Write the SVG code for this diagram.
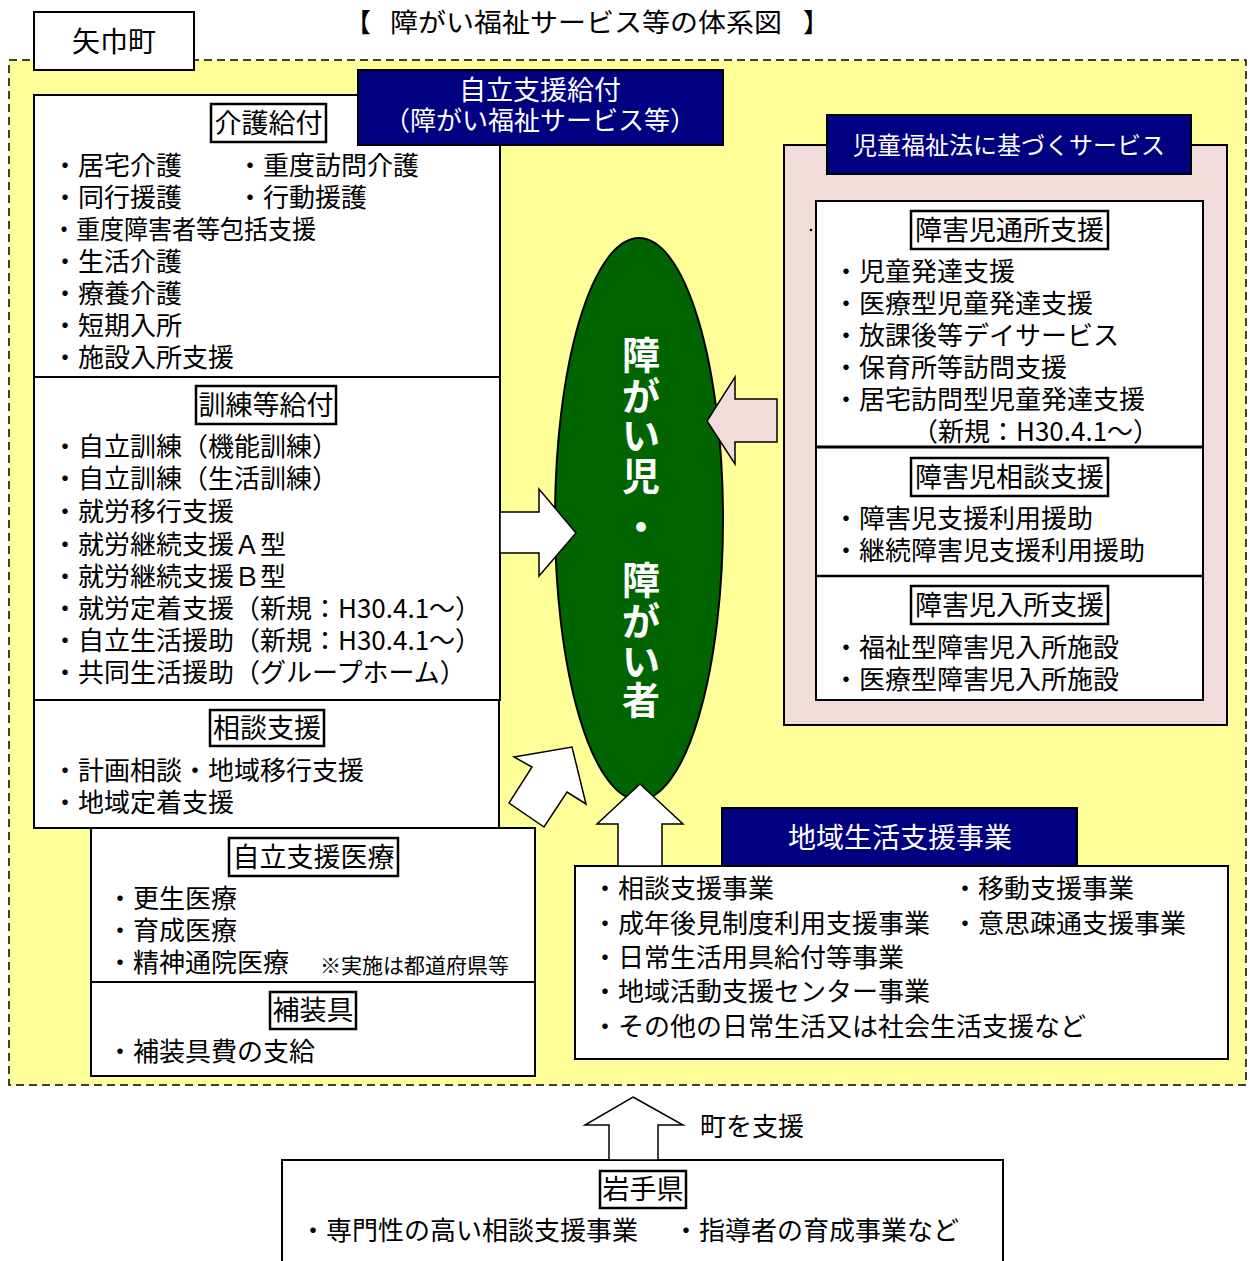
<svg xmlns="http://www.w3.org/2000/svg" width="1251" height="1261" viewBox="0 0 1251 1261">
<style>
.t{font-family:"Noto Sans CJK JP","Noto Sans CJK SC",sans-serif;font-size:26px;fill:#000}
.ttl{font-size:27px;text-anchor:middle}
.w{fill:#fff}
.box{fill:#fff;stroke:#000;stroke-width:2}
.tb{fill:#fff;stroke:#000;stroke-width:2.5}
.hdr{fill:#000080;stroke:#000;stroke-width:2}
.arr{fill:#fff;stroke:#000;stroke-width:1.5;stroke-linejoin:miter}
.big{font-size:38px;font-weight:bold;fill:#fff;text-anchor:middle}
</style>
<rect width="1251" height="1261" fill="#fff"/>
<g id="area">
<rect x="9" y="60" width="1237" height="1025" fill="#FFFF99" stroke="#000" stroke-width="1.5" stroke-dasharray="8,5"/>
</g>
<g id="town">
<rect class="box" x="34" y="12" width="160" height="58"/>
<text class="t" x="114" y="52" style="font-size:28px" text-anchor="middle">矢巾町</text>
</g>
<g id="title">
<text class="t" x="345" y="32">【<tspan x="390" textLength="392" lengthAdjust="spacingAndGlyphs">障がい福祉サービス等の体系図</tspan><tspan x="803">】</tspan></text>
</g>
<g id="kaigo">
<rect class="box" x="34" y="95" width="466" height="282"/>
<rect class="tb" x="211" y="104" width="115" height="38"/>
<text class="t ttl" x="268.5" y="133">介護給付</text>
<text class="t"><tspan x="52" y="175">・居宅介護</tspan><tspan x="237" y="175">・重度訪問介護</tspan><tspan x="52" y="207">・同行援護</tspan><tspan x="237" y="207">・行動援護</tspan><tspan x="52" y="239" textLength="264" lengthAdjust="spacingAndGlyphs">・重度障害者等包括支援</tspan><tspan x="52" y="271">・生活介護</tspan><tspan x="52" y="303">・療養介護</tspan><tspan x="52" y="335">・短期入所</tspan><tspan x="52" y="367">・施設入所支援</tspan></text>
</g>
<g id="kunren">
<rect class="box" x="34" y="377" width="466" height="323"/>
<rect class="tb" x="196" y="386" width="140" height="38"/>
<text class="t ttl" x="266" y="415">訓練等給付</text>
<text class="t"><tspan x="52" y="456">・自立訓練（機能訓練）</tspan><tspan x="52" y="488">・自立訓練（生活訓練）</tspan><tspan x="52" y="521">・就労移行支援</tspan><tspan x="52" y="554">・就労継続支援Ａ型</tspan><tspan x="52" y="586">・就労継続支援Ｂ型</tspan><tspan x="52" y="618">・就労定着支援（新規：H30.4.1～）</tspan><tspan x="52" y="650">・自立生活援助（新規：H30.4.1～）</tspan><tspan x="52" y="682">・共同生活援助（グループホーム）</tspan></text>
</g>
<g id="soudan">
<rect class="box" x="34" y="700" width="465" height="128"/>
<rect class="tb" x="210" y="710" width="114" height="36"/>
<text class="t ttl" x="267" y="738">相談支援</text>
<text class="t"><tspan x="52" y="780">・計画相談・地域移行支援</tspan><tspan x="52" y="812">・地域定着支援</tspan></text>
</g>
<g id="iryou">
<rect class="box" x="91" y="828" width="444" height="154"/>
<rect class="tb" x="229" y="838" width="169" height="38"/>
<text class="t ttl" x="313.5" y="867">自立支援医療</text>
<text class="t"><tspan x="107" y="908">・更生医療</tspan><tspan x="107" y="940">・育成医療</tspan><tspan x="107" y="972">・精神通院医療</tspan><tspan x="320" y="973" style="font-size:21px">※実施は都道府県等</tspan></text>
</g>
<g id="hosougu">
<rect class="box" x="91" y="982" width="444" height="94"/>
<rect class="tb" x="270" y="992" width="86" height="37"/>
<text class="t ttl" x="313" y="1020">補装具</text>
<text class="t" x="107" y="1061">・補装具費の支給</text>
</g>
<g id="jiritsu-header">
<rect class="hdr" x="358" y="70" width="365" height="75"/>
<text class="t w" text-anchor="middle"><tspan x="540" y="100" style="font-size:27px">自立支援給付</tspan><tspan x="540" y="130">（障がい福祉サービス等）</tspan></text>
</g>
<g id="jidou">
<rect x="784" y="145" width="443" height="580" fill="#F2DCDB" stroke="#000" stroke-width="2"/>
<rect class="hdr" x="827" y="115" width="364" height="59"/>
<text class="t w" x="1009" y="154" style="font-size:24px" text-anchor="middle">児童福祉法に基づくサービス</text>
<circle cx="811" cy="230" r="1.3" fill="#000"/>
<rect class="box" x="816" y="201" width="387" height="499"/>
<line x1="816" y1="447" x2="1203" y2="447" stroke="#000" stroke-width="3"/>
<line x1="816" y1="576" x2="1203" y2="576" stroke="#000" stroke-width="2.5"/>
<rect class="tb" x="911" y="211" width="197" height="38"/>
<text class="t ttl" x="1009.5" y="240">障害児通所支援</text>
<text class="t"><tspan x="833" y="281">・児童発達支援</tspan><tspan x="833" y="313">・医療型児童発達支援</tspan><tspan x="833" y="345">・放課後等デイサービス</tspan><tspan x="833" y="377">・保育所等訪問支援</tspan><tspan x="833" y="409">・居宅訪問型児童発達支援</tspan><tspan x="912" y="441">（新規：H30.4.1～）</tspan></text>
<rect class="tb" x="911" y="458" width="197" height="38"/>
<text class="t ttl" x="1009.5" y="487">障害児相談支援</text>
<text class="t"><tspan x="833" y="528">・障害児支援利用援助</tspan><tspan x="833" y="560">・継続障害児支援利用援助</tspan></text>
<rect class="tb" x="911" y="586" width="197" height="38"/>
<text class="t ttl" x="1009.5" y="615">障害児入所支援</text>
<text class="t"><tspan x="833" y="657">・福祉型障害児入所施設</tspan><tspan x="833" y="689">・医療型障害児入所施設</tspan></text>
</g>
<g id="center">
<ellipse cx="639" cy="519" rx="84" ry="281" fill="#006400" stroke="#000" stroke-width="2"/>
<text class="t big"><tspan x="641" y="369">障</tspan><tspan x="641" y="410">が</tspan><tspan x="641" y="449">い</tspan><tspan x="641" y="490">児</tspan><tspan x="641" y="541">・</tspan><tspan x="641" y="594">障</tspan><tspan x="641" y="635">が</tspan><tspan x="641" y="675">い</tspan><tspan x="641" y="714">者</tspan></text>
</g>
<g id="chiiki">
<rect class="hdr" x="722" y="808" width="355" height="58"/>
<text class="t w" x="900" y="848" style="font-size:28px" text-anchor="middle">地域生活支援事業</text>
<rect class="box" x="575" y="866" width="653" height="193"/>
<text class="t"><tspan x="592" y="898">・相談支援事業</tspan><tspan x="952" y="898">・移動支援事業</tspan><tspan x="592" y="933">・成年後見制度利用支援事業</tspan><tspan x="952" y="933">・意思疎通支援事業</tspan><tspan x="592" y="967">・日常生活用具給付等事業</tspan><tspan x="592" y="1001">・地域活動支援センター事業</tspan><tspan x="592" y="1036">・その他の日常生活又は社会生活支援など</tspan></text>
</g>
<g id="iwate">
<rect class="box" x="282" y="1160" width="721" height="110"/>
<rect class="tb" x="600" y="1171" width="86" height="37"/>
<text class="t ttl" x="643" y="1199">岩手県</text>
<text class="t"><tspan x="300" y="1240">・専門性の高い相談支援事業</tspan><tspan x="673" y="1240">・指導者の育成事業など</tspan></text>
</g>
<g id="connectors">
<polygon class="arr" points="500,512 539,512 539,489 576,533 539,576 539,553 500,553"/>
<polygon class="arr" points="777,399 735,399 735,377 707,421 735,464 735,442 777,442" style="fill:#F2DCDB"/>
<polygon class="arr" points="514,757 572,747 586,804 567,792 544,827 509,803 532,767"/>
<polygon class="arr" points="640,784 683,824 662,824 662,866 618,866 618,824 597,824"/>
<polygon class="arr" points="633,1097 683,1125 658,1125 658,1160 609,1160 609,1125 585,1125"/>
<text class="t" x="700" y="1136">町を支援</text>
</g>
</svg>
